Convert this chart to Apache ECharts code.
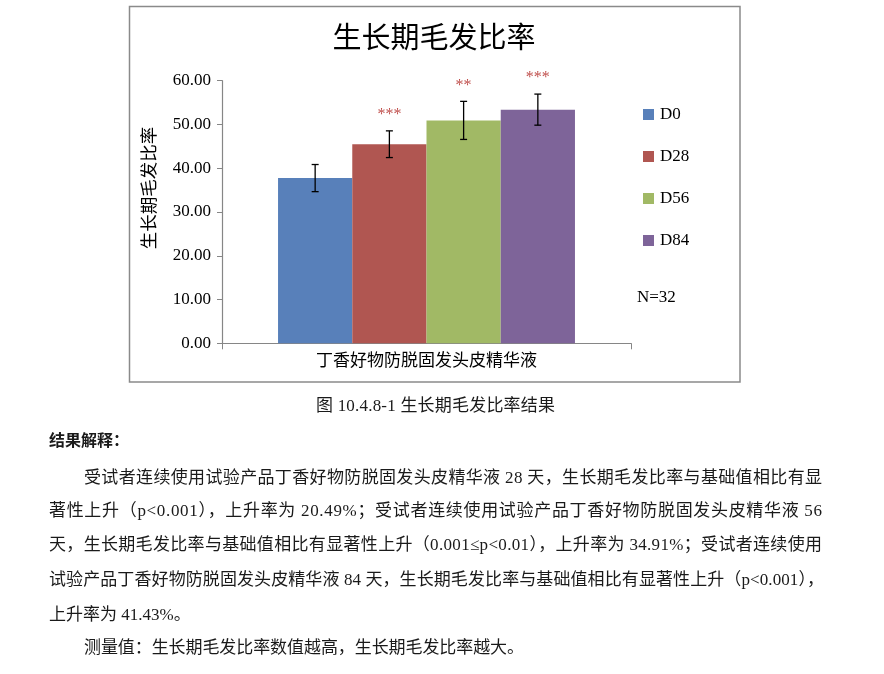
<!DOCTYPE html>
<html><head><meta charset="utf-8">
<script src="https://cdn.jsdelivr.net/npm/echarts@6/dist/echarts.min.js"></script>
<style>
html,body{margin:0;padding:0;background:#fff;width:884px;height:674px;overflow:hidden}
#chart{position:absolute;left:0;top:0;width:884px;height:674px}
.t{position:absolute;white-space:nowrap;font-family:"Liberation Serif","Noto Sans CJK SC",serif;font-size:17px;color:#1a1a1a;line-height:20px;transform:translateY(-50%)}
.b{font-weight:bold;font-size:16px}
</style></head><body>
<div id="chart"></div>
<div class="t" data-w="239" style="left:316px;top:406px">图 10.4.8-1 生长期毛发比率结果</div>
<div class="t b" style="left:49px;top:441px">结果解释：</div>
<div class="t" data-w="738" style="left:84px;top:478px">受试者连续使用试验产品丁香好物防脱固发头皮精华液 28 天，生长期毛发比率与基础值相比有显</div>
<div class="t" data-w="773" style="left:49px;top:511px">著性上升（p&lt;0.001），上升率为 20.49%；受试者连续使用试验产品丁香好物防脱固发头皮精华液 56</div>
<div class="t" data-w="773" style="left:49px;top:545px">天，生长期毛发比率与基础值相比有显著性上升（0.001≤p&lt;0.01），上升率为 34.91%；受试者连续使用</div>
<div class="t" data-w="775" style="left:49px;top:580px">试验产品丁香好物防脱固发头皮精华液 84 天，生长期毛发比率与基础值相比有显著性上升（p&lt;0.001），</div>
<div class="t" style="left:49px;top:615px">上升率为 41.43%。</div>
<div class="t" data-w="440" style="left:84px;top:648px">测量值：生长期毛发比率数值越高，生长期毛发比率越大。</div>
<script>
const categories = ['丁香好物防脱固发头皮精华液'];
const seriesNames = ['D0', 'D28', 'D56', 'D84'];
const meanValues = [37.75, 45.49, 50.93, 53.39];
const errorValues = [3.1, 3.05, 4.35, 3.55];
const starLabels = ['', '***', '**', '***'];
const yTicks = [0, 10, 20, 30, 40, 50, 60];

const colors = ['#5880ba', '#b05651', '#a1b965', '#7e6499'];
const FONT = "'Liberation Serif', 'Noto Sans CJK SC', serif";
const CJK = "'Noto Sans CJK SC', sans-serif";
const CAT_GAP = 0.274;

// justify text lines
document.querySelectorAll('.t[data-w]').forEach(el => {
  const W = +el.dataset.w;
  el.style.letterSpacing = '0px';
  const w = el.getBoundingClientRect().width;
  const n = el.textContent.length;
  el.style.letterSpacing = ((W - w) / (n - 1)) + 'px';
});

const chart = echarts.init(document.getElementById('chart'));
const series = seriesNames.map((name, i) => ({
  name: name,
  type: 'bar',
  data: [meanValues[i]],
  barGap: '0%',
  barCategoryGap: (CAT_GAP * 100) + '%',
  itemStyle: { color: colors[i] }
}));
series.push({
  type: 'custom',
  z: 10,
  data: meanValues.map((m, i) => [0, m, errorValues[i], i]),
  encode: { x: 0, y: 1 },
  renderItem: function (params, api) {
    const idx = api.value(3);
    const m = api.value(1), e = api.value(2);
    const center = api.coord([api.value(0), m])[0];
    const band = api.size([1, 0])[0];
    const bw = band * (1 - CAT_GAP) / seriesNames.length;
    const cx = center + (idx - (seriesNames.length - 1) / 2) * bw;
    const top = api.coord([0, m + e])[1];
    const bot = api.coord([0, m - e])[1];
    const st = { stroke: '#000', lineWidth: 1.3 };
    const cw = 3.5;
    const children = [
      { type: 'line', shape: { x1: cx, y1: top, x2: cx, y2: bot }, style: st },
      { type: 'line', shape: { x1: cx - cw, y1: top, x2: cx + cw, y2: top }, style: st },
      { type: 'line', shape: { x1: cx - cw, y1: bot, x2: cx + cw, y2: bot }, style: st }
    ];
    const s = starLabels[idx];
    if (s) {
      children.push({ type: 'text', x: cx, y: top - 16, style: { text: s, fill: '#c0504d', font: "16px " + FONT, align: 'center', verticalAlign: 'middle' } });
    }
    return { type: 'group', children: children };
  }
});

chart.setOption({
  animation: false,
  grid: { left: 222, right: 253, top: 80.7, bottom: 330.7, outerBoundsMode: 'none' },
  legend: {
    data: seriesNames,
    orient: 'vertical',
    left: 643, top: 106, padding: 0,
    itemWidth: 11, itemHeight: 11, itemGap: 25,
    icon: 'rect',
    selectedMode: false,
    textStyle: { fontSize: 17, fontFamily: FONT, color: '#000', padding: [0, 0, 0, 1] }
  },
  xAxis: {
    type: 'category',
    data: categories,
    axisLine: { lineStyle: { color: '#868686', width: 1.2 } },
    axisTick: { show: true, length: 6, lineStyle: { color: '#868686' } },
    axisLabel: { fontSize: 17, fontFamily: FONT, color: '#000', margin: 10 }
  },
  yAxis: {
    type: 'value',
    min: yTicks[0], max: yTicks[yTicks.length - 1], interval: yTicks[1] - yTicks[0],
    axisLine: { show: true, lineStyle: { color: '#868686', width: 1.2 } },
    axisTick: { show: true, length: 5, lineStyle: { color: '#868686' } },
    splitLine: { show: false },
    axisLabel: { fontSize: 17, fontFamily: FONT, color: '#000', margin: 11, formatter: v => v.toFixed(2) }
  },
  graphic: [
    { type: 'rect', shape: { x: 129.5, y: 6.5, width: 610.5, height: 375.5 }, style: { fill: 'none', stroke: '#8a8a8a', lineWidth: 1.5 }, z: -1 },
    { type: 'text', x: 434, y: 37, style: { text: '生长期毛发比率', font: '29px ' + CJK, fill: '#000', align: 'center', verticalAlign: 'middle' } },
    { type: 'text', x: 148, y: 188, rotation: Math.PI / 2, style: { text: '生长期毛发比率', font: '17.5px ' + CJK, fill: '#000', align: 'center', verticalAlign: 'middle' } },
    { type: 'text', x: 637, y: 298, style: { text: 'N=32', font: '17px ' + FONT, fill: '#000', align: 'left', verticalAlign: 'middle' } }
  ],
  series: series
});
</script>
</body></html>
